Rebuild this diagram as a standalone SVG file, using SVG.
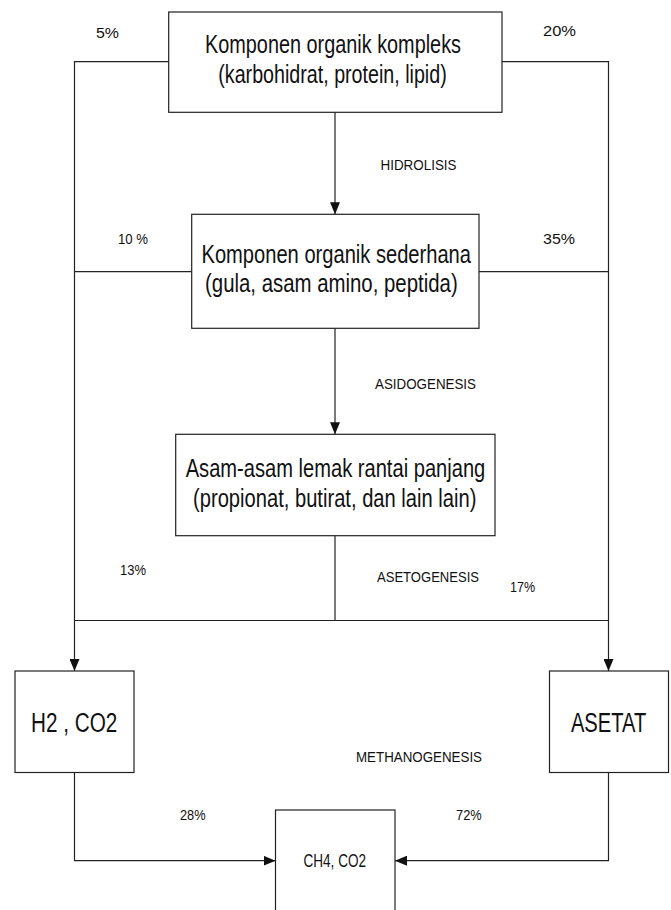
<svg xmlns="http://www.w3.org/2000/svg" width="671" height="910" viewBox="0 0 671 910">
<style>
.box{fill:#fff;stroke:#222;stroke-width:1.2}
.ln{fill:none;stroke:#222;stroke-width:1.2}
text{font-family:"Liberation Sans",Arial,sans-serif;fill:#111}
.big{font-size:25.5px}
.lbl{font-size:15.5px}
.mid{font-size:28px}
.sm{font-size:18.5px}
</style>
<defs>
<marker id="arr" viewBox="0 0 12 10" markerWidth="12" markerHeight="10" refX="12" refY="5" orient="auto" markerUnits="userSpaceOnUse">
<path d="M0,0 L12,5 L0,10 z" fill="#111"/>
</marker>
</defs>
<rect width="671" height="910" fill="#fff"/>
<g id="connectors">
<path class="ln" d="M168.7,61.7 H74.5 V671" marker-end="url(#arr)"/>
<path class="ln" d="M502,61.7 H608.5 V671" marker-end="url(#arr)"/>
<path class="ln" d="M191.7,271.7 H74.5"/>
<path class="ln" d="M479,271.7 H608.5"/>
<path class="ln" d="M335,112.3 V214.3" marker-end="url(#arr)"/>
<path class="ln" d="M335,328.3 V434.3" marker-end="url(#arr)"/>
<path class="ln" d="M335,535.7 V620.5"/>
<path class="ln" d="M74.5,620.5 H608.5"/>
<path class="ln" d="M74.5,772.5 V860.7 H275.5" marker-end="url(#arr)"/>
<path class="ln" d="M608.5,772.5 V860.7 H395" marker-end="url(#arr)"/>
</g>
<g id="labels">
<text class="lbl" x="96" y="38" textLength="23" lengthAdjust="spacingAndGlyphs">5%</text>
<text class="lbl" x="543" y="35.5" textLength="33" lengthAdjust="spacingAndGlyphs">20%</text>
<text class="lbl" x="380.5" y="169.5" textLength="76" lengthAdjust="spacingAndGlyphs">HIDROLISIS</text>
<text class="lbl" x="118" y="244" textLength="30" lengthAdjust="spacingAndGlyphs">10 %</text>
<text class="lbl" x="543" y="244" textLength="32" lengthAdjust="spacingAndGlyphs">35%</text>
<text class="lbl" x="375" y="388.5" textLength="101" lengthAdjust="spacingAndGlyphs">ASIDOGENESIS</text>
<text class="lbl" x="120" y="575" textLength="26" lengthAdjust="spacingAndGlyphs">13%</text>
<text class="lbl" x="377" y="581.5" textLength="102" lengthAdjust="spacingAndGlyphs">ASETOGENESIS</text>
<text class="lbl" x="510" y="591.5" textLength="25" lengthAdjust="spacingAndGlyphs">17%</text>
<text class="lbl" x="356" y="762" textLength="126" lengthAdjust="spacingAndGlyphs">METHANOGENESIS</text>
<text class="lbl" x="180" y="820" textLength="25.6" lengthAdjust="spacingAndGlyphs">28%</text>
<text class="lbl" x="456" y="820" textLength="25.7" lengthAdjust="spacingAndGlyphs">72%</text>
</g>
<g id="node-kompleks">
<rect class="box" x="168.7" y="12" width="333.3" height="100.3"/>
<text class="big" x="205" y="53.3" textLength="256" lengthAdjust="spacingAndGlyphs">Komponen organik kompleks</text>
<text class="big" x="218.3" y="83.3" textLength="228.4" lengthAdjust="spacingAndGlyphs">(karbohidrat, protein, lipid)</text>
</g>
<g id="node-sederhana">
<rect class="box" x="191.7" y="214.3" width="287.3" height="114"/>
<text class="big" x="201.5" y="263.3" textLength="269.5" lengthAdjust="spacingAndGlyphs">Komponen organik sederhana</text>
<text class="big" x="205" y="291.5" textLength="252.7" lengthAdjust="spacingAndGlyphs">(gula, asam amino, peptida)</text>
</g>
<g id="node-asam-lemak">
<rect class="box" x="175.7" y="434.3" width="319.3" height="101.4"/>
<text class="big" x="185.7" y="476.7" textLength="299.6" lengthAdjust="spacingAndGlyphs">Asam-asam lemak rantai panjang</text>
<text class="big" x="193" y="507" textLength="283.4" lengthAdjust="spacingAndGlyphs">(propionat, butirat, dan lain lain)</text>
</g>
<g id="node-h2co2">
<rect class="box" x="15" y="671" width="119" height="101.5"/>
<text class="mid" transform="translate(74.2,731.7) scale(0.74,1)" text-anchor="middle">H2 , CO2</text>
</g>
<g id="node-asetat">
<rect class="box" x="549.5" y="671" width="119" height="101.5"/>
<text class="mid" transform="translate(608.6,731.7) scale(0.72,1)" text-anchor="middle">ASETAT</text>
</g>
<g id="node-ch4co2">
<rect class="box" x="275.5" y="810" width="119.5" height="110"/>
<text class="sm" x="303.5" y="866.5" textLength="62.5" lengthAdjust="spacingAndGlyphs">CH4, CO2</text>
</g>
</svg>
